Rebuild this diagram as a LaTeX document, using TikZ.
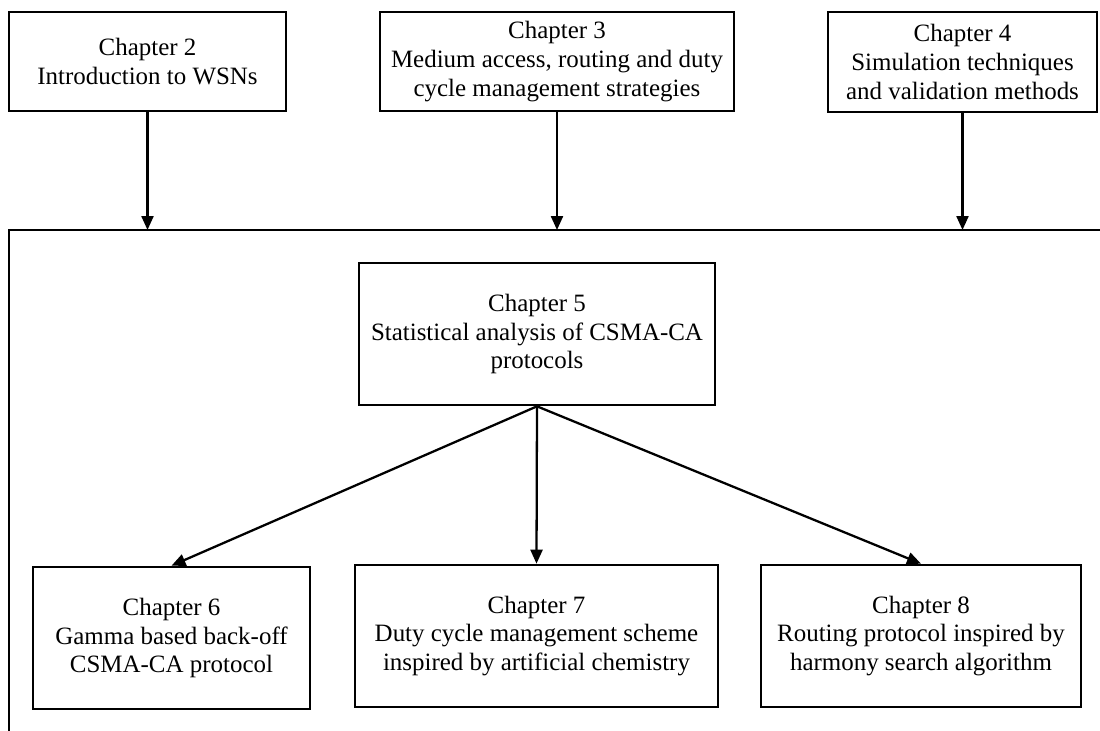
\documentclass[tikz,border=0pt]{standalone}
\usepackage{fontspec}
\setmainfont{Liberation Serif}
\usetikzlibrary{arrows.meta}
\newcommand{\px}{0.02cm}

\begin{document}
\begin{tikzpicture}[x=\px, y=-\px,
    chap/.style={draw, rectangle, line width=1.5pt, align=center, inner sep=0pt, minimum height=142*\px, font=\fontsize{14.2}{16.3}\selectfont},
    link/.style={-{Triangle[width=0.24cm,length=0.28cm]}, line width=1.3pt}]
    \useasboundingbox (0,0) rectangle (1100,731);

    % Top row
    \node[chap, minimum width=277*\px, minimum height=99*\px] (chap-2) at (147.5,61.5) {Chapter 2\\Introduction to WSNs};
    \node[chap, minimum width=354*\px, minimum height=99*\px] (chap-3) at (557,61.5) {Chapter 3\\Medium access, routing and duty\\cycle management strategies};
    \node[chap, minimum width=269*\px, minimum height=100*\px] (chap-4) at (962.5,62) {Chapter 4\\Simulation techniques\\and validation methods};

    % Frame
    \coordinate (frame-top) at (9,230);
    \draw[line width=1.3pt] (9,731) -- (frame-top) -- (1100,230);

    \draw[link] (chap-2.south) -- (chap-2.south |- frame-top);
    \draw[link] (chap-3.south) -- (chap-3.south |- frame-top);
    \draw[link] (chap-4.south) -- (chap-4.south |- frame-top);

    % Middle
    \node[chap, minimum width=356*\px] (chap-5) at (537,334) {Chapter 5\\Statistical analysis of CSMA-CA\\protocols};

    % Bottom row
    \node[chap, minimum width=277*\px] (chap-6) at (171.5,638) {Chapter 6\\Gamma based back-off\\CSMA-CA protocol};
    \node[chap, minimum width=363*\px] (chap-7) at (536.5,636) {Chapter 7\\Duty cycle management scheme\\inspired by artificial chemistry};
    \node[chap, minimum width=320*\px] (chap-8) at (921,636) {Chapter 8\\Routing protocol inspired by\\harmony search algorithm};

    \draw[link] (chap-5.south) -- (chap-6.north);
    \draw[link] (chap-5.south) -- (chap-7.north);
    \draw[link] (chap-5.south) -- (chap-8.north);

\end{tikzpicture}
\end{document}
